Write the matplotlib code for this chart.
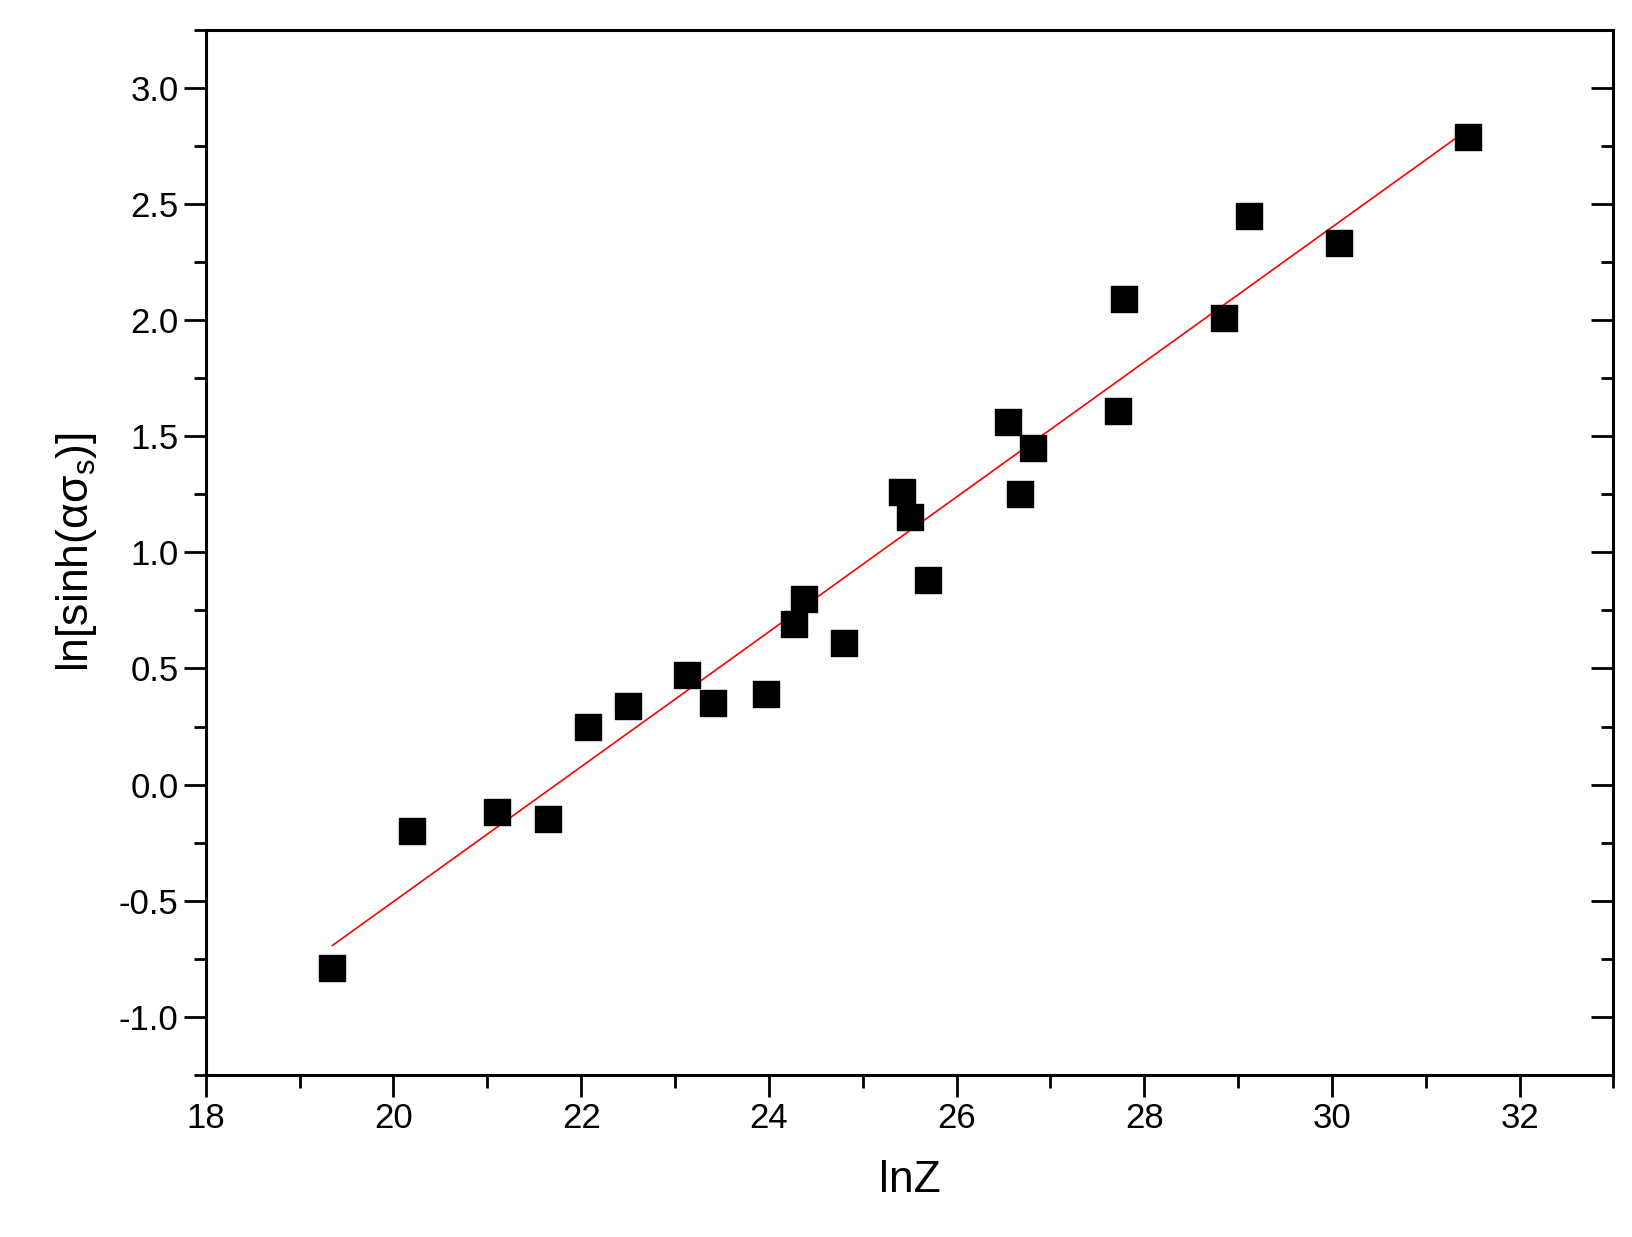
import numpy as np
import matplotlib
matplotlib.use("Agg")
import matplotlib.pyplot as plt
from matplotlib.ticker import MultipleLocator, FormatStrFormatter

plt.rcParams['font.family'] = ['Liberation Sans', 'DejaVu Sans']
plt.rcParams['mathtext.fontset'] = 'custom'
plt.rcParams['mathtext.rm'] = 'Liberation Sans'
plt.rcParams['mathtext.it'] = 'Liberation Sans'

lnZ = [19.35, 20.2, 21.1, 21.65, 22.07, 22.5, 23.13, 23.4, 23.97, 24.27, 24.37, 24.8,
       25.42, 25.5, 25.7, 26.55, 26.68, 26.82, 27.72, 27.78, 28.85, 29.12, 30.08, 31.45]
lnsinh = [-0.79, -0.2, -0.12, -0.15, 0.25, 0.34, 0.47, 0.35, 0.39, 0.69, 0.8, 0.61,
          1.26, 1.15, 0.88, 1.56, 1.25, 1.45, 1.61, 2.09, 2.01, 2.45, 2.33, 2.79]

fig = plt.figure(figsize=(16.33, 12.37), dpi=100)
ax = fig.add_axes([0.126, 0.131, 0.862, 0.845])
ax.scatter(lnZ, lnsinh, marker='s', s=330, color='black', zorder=3)
k, b = np.polyfit(lnZ, lnsinh, 1)
xs = np.array([min(lnZ), max(lnZ)])
ax.plot(xs, k * xs + b, color='red', lw=1.2)

ax.set_xlim(18, 33)
ax.set_ylim(-1.25, 3.25)
ax.xaxis.set_major_locator(MultipleLocator(2))
ax.xaxis.set_minor_locator(MultipleLocator(1))
ax.yaxis.set_major_locator(MultipleLocator(0.5))
ax.yaxis.set_minor_locator(MultipleLocator(0.25))
ax.tick_params(which='both', direction='out', width=2, labelsize=25, top=False, right=False)
ax.tick_params(which='major', length=16)
ax.tick_params(which='minor', length=9)
for s in ax.spines.values():
    s.set_linewidth(2.2)
ax.yaxis.set_major_formatter(FormatStrFormatter('%.1f'))

ax2 = ax.twinx()
ax2.set_ylim(ax.get_ylim())
ax2.yaxis.set_major_locator(MultipleLocator(0.5))
ax2.yaxis.set_minor_locator(MultipleLocator(0.25))
ax2.tick_params(which='both', direction='in', width=2, labelright=False)
ax2.tick_params(which='major', length=16)
ax2.tick_params(which='minor', length=9)

ax.set_xlabel('lnZ', fontsize=32, labelpad=18)
ax.set_ylabel(r'ln[sinh($\mathrm{\alpha\sigma_{s}}$)]', fontsize=32, labelpad=14)
fig.savefig('out.png', dpi=100)
